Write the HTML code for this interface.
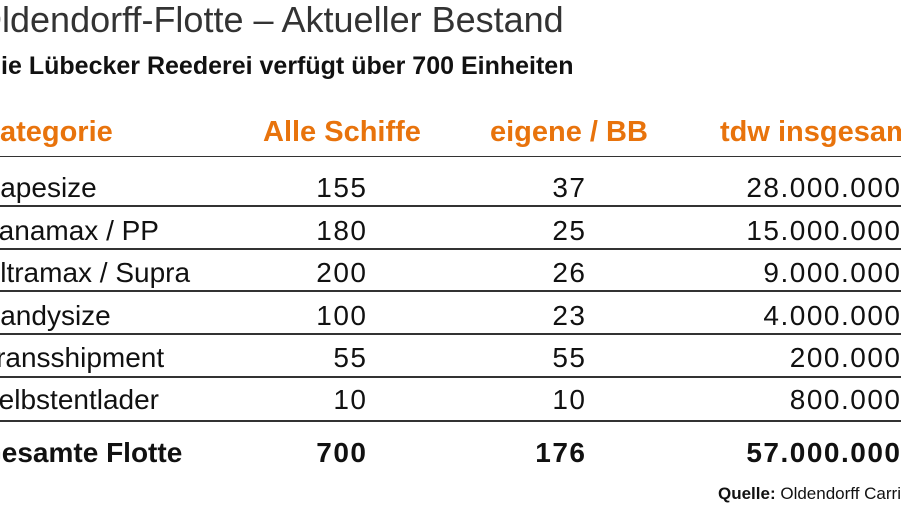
<!DOCTYPE html>
<html><head><meta charset="utf-8">
<style>
body{margin:0;width:901px;height:507px;overflow:hidden;background:#fff;position:relative;font-family:"Liberation Sans",sans-serif;color:#111}
.t{position:absolute;white-space:nowrap;line-height:1.149}
.r{text-align:right}
.line{position:absolute;left:0;width:901px;height:1.5px;background:#333}
.h{font-weight:bold;color:#e8730c;font-size:29px}
.c{font-size:28px}
.n{letter-spacing:1.5px}
.b{font-weight:bold;font-size:28px}
</style></head><body>
<div class="t" style="left:-26px;top:-1px;font-size:36px;color:#333;font-weight:300">Oldendorff-Flotte – Aktueller Bestand</div>
<div class="t" style="left:-17px;top:52px;font-size:25px;font-weight:bold">Die Lübecker Reederei verfügt über 700 Einheiten</div>
<div id="tbl"></div>
<div class="t" style="left:718px;top:484px;font-size:17px"><b>Quelle:</b> Oldendorff Carriers</div>
<script>
const cats=["Capesize","Panamax / PP","Ultramax / Supra","Handysize","Transshipment","Selbstentlader"];
const alle=["155","180","200","100","55","10"];
const eigene=["37","25","26","23","55","10"];
const tdw=["28.000.000","15.000.000","9.000.000","4.000.000","200.000","800.000"];
const tbl=document.getElementById('tbl');
function txt(s,cls,x,baseline,right,name,fs){
  const d=document.createElement('div');
  
  
  d.className='t '+cls+(right?' r n':'');
  d.textContent=s;
  d.style.top=(baseline-0.905*fs)+'px';
  if(right){d.style.right=(901-x-1.5)+'px';}else{d.style.left=x+'px';}
  tbl.appendChild(d);
}
function line(y){
  const l=document.createElement('div');
  
  
  l.className='line';l.style.top=y+'px';tbl.appendChild(l);
}
const hl=document.createElement('div');
txt('Kategorie','h',-21,142,false,'header-kategorie',29);
const hs=[['Alle Schiffe',263,'header-alle-schiffe'],['eigene / BB',490,'header-eigene-bb'],['tdw insgesamt',720,'header-tdw']];
hs.forEach(h=>txt(h[0],'h',h[1],142,false,h[2],29));
line(155.5);
const bases=[197,240,282,325,367,409];
const lines=[205,248,290,333,376,420];
cats.forEach((c,i)=>{
  txt(c,'c',-20,bases[i],false,'category-cell',28);
  txt(alle[i],'c',366,bases[i],true,'alle-schiffe-cell',28);
  txt(eigene[i],'c',585,bases[i],true,'eigene-cell',28);
  txt(tdw[i],'c',900,bases[i],true,'tdw-cell',28);
  line(lines[i]);
});
txt('Gesamte Flotte','b',-20,462,false,'total-label',28);
txt('700','b',366,462,true,'total-alle',28);
txt('176','b',585,462,true,'total-eigene',28);
txt('57.000.000','b',900,462,true,'total-tdw',28);
</script>
</body></html>
